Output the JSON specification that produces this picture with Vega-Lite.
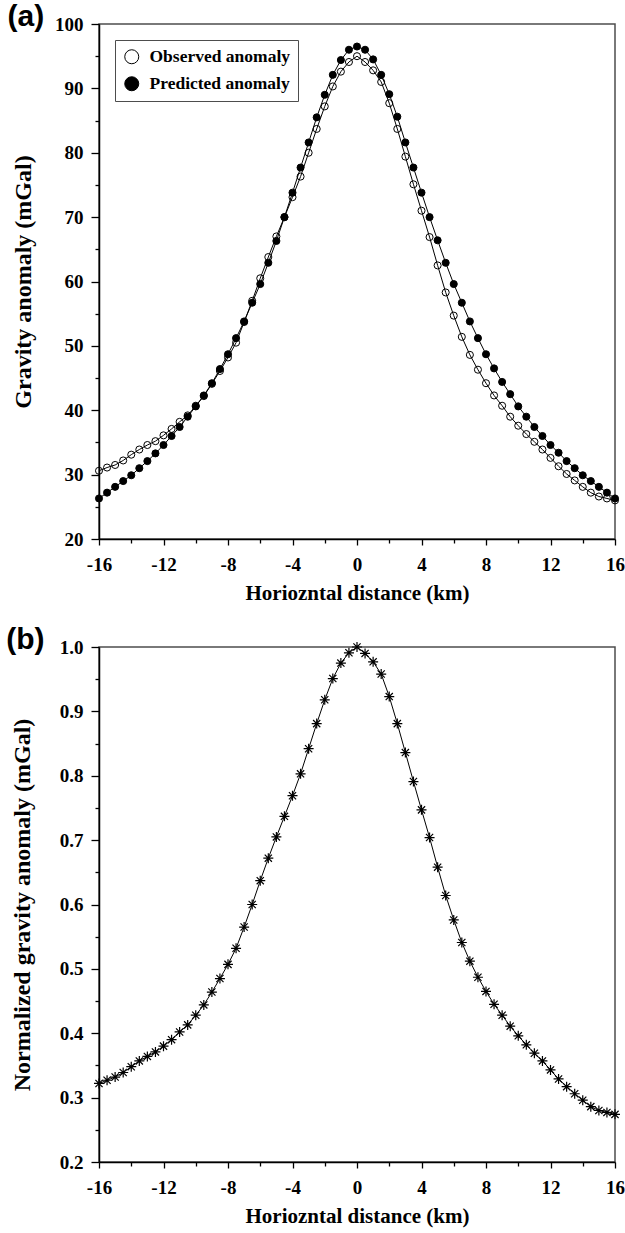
{
  "$schema": "https://vega.github.io/schema/vega-lite/v6.json",
  "background": "white",
  "padding": {"left": 5, "top": 1, "right": 5, "bottom": 5},
  "spacing": 20,
  "config": {
    "font": "Liberation Serif",
    "view": {"stroke": "#4d4d4d", "strokeWidth": 1.5},
    "axis": {"grid": false, "domainColor": "black", "domainWidth": 1.5, "tickColor": "black", "tickWidth": 1.3, "labelFont": "Liberation Serif", "labelFontWeight": "bold", "labelFontSize": 19, "labelColor": "black", "titleFont": "Liberation Serif", "titleFontWeight": "bold", "titleFontSize": 21, "titleColor": "black"},
    "title": {"font": "Liberation Sans", "fontWeight": "bold", "fontSize": 30, "color": "black", "anchor": "start", "frame": "bounds"}
  },
  "datasets": {
    "anomaly": [
      {"x": -16, "series": "Observed anomaly", "value": 30.6},
      {"x": -15.5, "series": "Observed anomaly", "value": 31.1},
      {"x": -15, "series": "Observed anomaly", "value": 31.5},
      {"x": -14.5, "series": "Observed anomaly", "value": 32.2},
      {"x": -14, "series": "Observed anomaly", "value": 33.1},
      {"x": -13.5, "series": "Observed anomaly", "value": 33.9},
      {"x": -13, "series": "Observed anomaly", "value": 34.6},
      {"x": -12.5, "series": "Observed anomaly", "value": 35.2},
      {"x": -12, "series": "Observed anomaly", "value": 36.1},
      {"x": -11.5, "series": "Observed anomaly", "value": 37.1},
      {"x": -11, "series": "Observed anomaly", "value": 38.2},
      {"x": -10.5, "series": "Observed anomaly", "value": 39.2},
      {"x": -10, "series": "Observed anomaly", "value": 40.7},
      {"x": -9.5, "series": "Observed anomaly", "value": 42.2},
      {"x": -9, "series": "Observed anomaly", "value": 44.1},
      {"x": -8.5, "series": "Observed anomaly", "value": 46.1},
      {"x": -8, "series": "Observed anomaly", "value": 48.2},
      {"x": -7.5, "series": "Observed anomaly", "value": 50.5},
      {"x": -7, "series": "Observed anomaly", "value": 53.7},
      {"x": -6.5, "series": "Observed anomaly", "value": 57.0},
      {"x": -6, "series": "Observed anomaly", "value": 60.5},
      {"x": -5.5, "series": "Observed anomaly", "value": 63.8},
      {"x": -5, "series": "Observed anomaly", "value": 67.0},
      {"x": -4.5, "series": "Observed anomaly", "value": 70.0},
      {"x": -4, "series": "Observed anomaly", "value": 73.1},
      {"x": -3.5, "series": "Observed anomaly", "value": 76.3},
      {"x": -3, "series": "Observed anomaly", "value": 80.0},
      {"x": -2.5, "series": "Observed anomaly", "value": 83.7},
      {"x": -2, "series": "Observed anomaly", "value": 87.2},
      {"x": -1.5, "series": "Observed anomaly", "value": 90.3},
      {"x": -1, "series": "Observed anomaly", "value": 92.6},
      {"x": -0.5, "series": "Observed anomaly", "value": 94.1},
      {"x": 0, "series": "Observed anomaly", "value": 95.0},
      {"x": 0.5, "series": "Observed anomaly", "value": 94.1},
      {"x": 1, "series": "Observed anomaly", "value": 92.8},
      {"x": 1.5, "series": "Observed anomaly", "value": 91.0},
      {"x": 2, "series": "Observed anomaly", "value": 87.7},
      {"x": 2.5, "series": "Observed anomaly", "value": 83.7},
      {"x": 3, "series": "Observed anomaly", "value": 79.4},
      {"x": 3.5, "series": "Observed anomaly", "value": 75.1},
      {"x": 4, "series": "Observed anomaly", "value": 71.0},
      {"x": 4.5, "series": "Observed anomaly", "value": 66.9},
      {"x": 5, "series": "Observed anomaly", "value": 62.5},
      {"x": 5.5, "series": "Observed anomaly", "value": 58.3},
      {"x": 6, "series": "Observed anomaly", "value": 54.7},
      {"x": 6.5, "series": "Observed anomaly", "value": 51.4},
      {"x": 7, "series": "Observed anomaly", "value": 48.6},
      {"x": 7.5, "series": "Observed anomaly", "value": 46.3},
      {"x": 8, "series": "Observed anomaly", "value": 44.2},
      {"x": 8.5, "series": "Observed anomaly", "value": 42.3},
      {"x": 9, "series": "Observed anomaly", "value": 40.7},
      {"x": 9.5, "series": "Observed anomaly", "value": 39.0},
      {"x": 10, "series": "Observed anomaly", "value": 37.6},
      {"x": 10.5, "series": "Observed anomaly", "value": 36.3},
      {"x": 11, "series": "Observed anomaly", "value": 35.1},
      {"x": 11.5, "series": "Observed anomaly", "value": 33.9},
      {"x": 12, "series": "Observed anomaly", "value": 32.6},
      {"x": 12.5, "series": "Observed anomaly", "value": 31.3},
      {"x": 13, "series": "Observed anomaly", "value": 30.1},
      {"x": 13.5, "series": "Observed anomaly", "value": 29.1},
      {"x": 14, "series": "Observed anomaly", "value": 28.1},
      {"x": 14.5, "series": "Observed anomaly", "value": 27.2},
      {"x": 15, "series": "Observed anomaly", "value": 26.6},
      {"x": 15.5, "series": "Observed anomaly", "value": 26.3},
      {"x": 16, "series": "Observed anomaly", "value": 26.0},
      {"x": -16, "series": "Predicted anomaly", "value": 26.3},
      {"x": -15.5, "series": "Predicted anomaly", "value": 27.2},
      {"x": -15, "series": "Predicted anomaly", "value": 28.1},
      {"x": -14.5, "series": "Predicted anomaly", "value": 29.0},
      {"x": -14, "series": "Predicted anomaly", "value": 29.9},
      {"x": -13.5, "series": "Predicted anomaly", "value": 31.0},
      {"x": -13, "series": "Predicted anomaly", "value": 32.1},
      {"x": -12.5, "series": "Predicted anomaly", "value": 33.3},
      {"x": -12, "series": "Predicted anomaly", "value": 34.6},
      {"x": -11.5, "series": "Predicted anomaly", "value": 36.0},
      {"x": -11, "series": "Predicted anomaly", "value": 37.4},
      {"x": -10.5, "series": "Predicted anomaly", "value": 39.0},
      {"x": -10, "series": "Predicted anomaly", "value": 40.6},
      {"x": -9.5, "series": "Predicted anomaly", "value": 42.3},
      {"x": -9, "series": "Predicted anomaly", "value": 44.2},
      {"x": -8.5, "series": "Predicted anomaly", "value": 46.4},
      {"x": -8, "series": "Predicted anomaly", "value": 48.7},
      {"x": -7.5, "series": "Predicted anomaly", "value": 51.2},
      {"x": -7, "series": "Predicted anomaly", "value": 53.8},
      {"x": -6.5, "series": "Predicted anomaly", "value": 56.7},
      {"x": -6, "series": "Predicted anomaly", "value": 59.6},
      {"x": -5.5, "series": "Predicted anomaly", "value": 62.9},
      {"x": -5, "series": "Predicted anomaly", "value": 66.3},
      {"x": -4.5, "series": "Predicted anomaly", "value": 70.0},
      {"x": -4, "series": "Predicted anomaly", "value": 73.8},
      {"x": -3.5, "series": "Predicted anomaly", "value": 77.7},
      {"x": -3, "series": "Predicted anomaly", "value": 81.6},
      {"x": -2.5, "series": "Predicted anomaly", "value": 85.5},
      {"x": -2, "series": "Predicted anomaly", "value": 89.0},
      {"x": -1.5, "series": "Predicted anomaly", "value": 92.1},
      {"x": -1, "series": "Predicted anomaly", "value": 94.4},
      {"x": -0.5, "series": "Predicted anomaly", "value": 96.0},
      {"x": 0, "series": "Predicted anomaly", "value": 96.5},
      {"x": 0.5, "series": "Predicted anomaly", "value": 96.0},
      {"x": 1, "series": "Predicted anomaly", "value": 94.5},
      {"x": 1.5, "series": "Predicted anomaly", "value": 92.1},
      {"x": 2, "series": "Predicted anomaly", "value": 89.1},
      {"x": 2.5, "series": "Predicted anomaly", "value": 85.6},
      {"x": 3, "series": "Predicted anomaly", "value": 81.6},
      {"x": 3.5, "series": "Predicted anomaly", "value": 77.7},
      {"x": 4, "series": "Predicted anomaly", "value": 73.8},
      {"x": 4.5, "series": "Predicted anomaly", "value": 70.0},
      {"x": 5, "series": "Predicted anomaly", "value": 66.4},
      {"x": 5.5, "series": "Predicted anomaly", "value": 62.9},
      {"x": 6, "series": "Predicted anomaly", "value": 59.6},
      {"x": 6.5, "series": "Predicted anomaly", "value": 56.7},
      {"x": 7, "series": "Predicted anomaly", "value": 53.8},
      {"x": 7.5, "series": "Predicted anomaly", "value": 51.2},
      {"x": 8, "series": "Predicted anomaly", "value": 48.7},
      {"x": 8.5, "series": "Predicted anomaly", "value": 46.5},
      {"x": 9, "series": "Predicted anomaly", "value": 44.4},
      {"x": 9.5, "series": "Predicted anomaly", "value": 42.5},
      {"x": 10, "series": "Predicted anomaly", "value": 40.6},
      {"x": 10.5, "series": "Predicted anomaly", "value": 39.0},
      {"x": 11, "series": "Predicted anomaly", "value": 37.4},
      {"x": 11.5, "series": "Predicted anomaly", "value": 36.0},
      {"x": 12, "series": "Predicted anomaly", "value": 34.6},
      {"x": 12.5, "series": "Predicted anomaly", "value": 33.4},
      {"x": 13, "series": "Predicted anomaly", "value": 32.1},
      {"x": 13.5, "series": "Predicted anomaly", "value": 31.0},
      {"x": 14, "series": "Predicted anomaly", "value": 29.9},
      {"x": 14.5, "series": "Predicted anomaly", "value": 29.0},
      {"x": 15, "series": "Predicted anomaly", "value": 28.1},
      {"x": 15.5, "series": "Predicted anomaly", "value": 27.2},
      {"x": 16, "series": "Predicted anomaly", "value": 26.3}
    ],
    "normalized": [
      {"x": -16, "value": 0.322}, {"x": -15.5, "value": 0.327}, {"x": -15, "value": 0.332}, {"x": -14.5, "value": 0.339},
      {"x": -14, "value": 0.348}, {"x": -13.5, "value": 0.357}, {"x": -13, "value": 0.364}, {"x": -12.5, "value": 0.371},
      {"x": -12, "value": 0.380}, {"x": -11.5, "value": 0.390}, {"x": -11, "value": 0.402}, {"x": -10.5, "value": 0.413},
      {"x": -10, "value": 0.428}, {"x": -9.5, "value": 0.444}, {"x": -9, "value": 0.464}, {"x": -8.5, "value": 0.485},
      {"x": -8, "value": 0.507}, {"x": -7.5, "value": 0.532}, {"x": -7, "value": 0.565}, {"x": -6.5, "value": 0.600},
      {"x": -6, "value": 0.637}, {"x": -5.5, "value": 0.672}, {"x": -5, "value": 0.705}, {"x": -4.5, "value": 0.737},
      {"x": -4, "value": 0.769}, {"x": -3.5, "value": 0.803}, {"x": -3, "value": 0.842}, {"x": -2.5, "value": 0.881},
      {"x": -2, "value": 0.918}, {"x": -1.5, "value": 0.951}, {"x": -1, "value": 0.975}, {"x": -0.5, "value": 0.991},
      {"x": 0, "value": 1.000}, {"x": 0.5, "value": 0.990}, {"x": 1, "value": 0.977}, {"x": 1.5, "value": 0.958},
      {"x": 2, "value": 0.923}, {"x": 2.5, "value": 0.881}, {"x": 3, "value": 0.836}, {"x": 3.5, "value": 0.791},
      {"x": 4, "value": 0.747}, {"x": 4.5, "value": 0.704}, {"x": 5, "value": 0.658}, {"x": 5.5, "value": 0.614},
      {"x": 6, "value": 0.576}, {"x": 6.5, "value": 0.541}, {"x": 7, "value": 0.512}, {"x": 7.5, "value": 0.487},
      {"x": 8, "value": 0.465}, {"x": 8.5, "value": 0.445}, {"x": 9, "value": 0.428}, {"x": 9.5, "value": 0.411},
      {"x": 10, "value": 0.396}, {"x": 10.5, "value": 0.382}, {"x": 11, "value": 0.369}, {"x": 11.5, "value": 0.357},
      {"x": 12, "value": 0.343}, {"x": 12.5, "value": 0.329}, {"x": 13, "value": 0.317}, {"x": 13.5, "value": 0.306},
      {"x": 14, "value": 0.296}, {"x": 14.5, "value": 0.286}, {"x": 15, "value": 0.280}, {"x": 15.5, "value": 0.277},
      {"x": 16, "value": 0.274}
    ]
  },
  "vconcat": [
    {
      "width": 516,
      "height": 515,
      "title": {"text": "(a)", "offset": -17, "dx": -4},
      "data": {"name": "anomaly"},
      "encoding": {
        "x": {"field": "x", "type": "quantitative",
          "scale": {"domain": [-16, 16], "nice": false, "zero": false},
          "axis": {"title": "Horiozntal distance (km)", "values": [-16, -14, -12, -10, -8, -6, -4, -2, 0, 2, 4, 6, 8, 10, 12, 14, 16],
            "labelExpr": "datum.value % 4 === 0 ? '' + datum.value : ''",
            "tickSize": {"condition": {"test": "datum.value % 4 !== 0", "value": 4}, "value": 6},
            "labelPadding": 10, "titlePadding": 8, "labelFlush": false}},
        "y": {"field": "value", "type": "quantitative",
          "scale": {"domain": [20, 100], "nice": false, "zero": false},
          "axis": {"title": "Gravity anomaly (mGal)", "values": [20, 25, 30, 35, 40, 45, 50, 55, 60, 65, 70, 75, 80, 85, 90, 95, 100],
            "labelExpr": "datum.value % 10 === 0 ? datum.label : ''",
            "tickSize": {"condition": {"test": "datum.value % 10 !== 0", "value": 4}, "value": 8},
            "labelPadding": 8, "titlePadding": 19, "titleFontSize": 24, "labelFlush": false}}
      },
      "layer": [
        {"mark": {"type": "line", "color": "black", "strokeWidth": 1}, "encoding": {"detail": {"field": "series"}}},
        {"mark": {"type": "point", "shape": "circle", "size": 50, "stroke": "black", "strokeWidth": 1, "opacity": 1},
          "encoding": {"fill": {"field": "series", "type": "nominal",
            "scale": {"domain": ["Observed anomaly", "Predicted anomaly"], "range": ["transparent", "black"]},
            "legend": {"title": null, "orient": "top-left", "offset": 16, "labelFont": "Liberation Serif", "labelFontWeight": "bold", "labelFontSize": 17.5, "labelColor": "black",
              "symbolSize": 196, "symbolStrokeColor": "black", "symbolStrokeWidth": 1, "symbolType": "circle", "symbolOpacity": 1,
              "strokeColor": "#4d4d4d", "fillColor": "white", "padding": 8, "rowPadding": 8, "labelOffset": 9}}}}
      ]
    },
    {
      "width": 516,
      "height": 515,
      "title": {"text": "(b)", "offset": -17, "dx": -4},
      "data": {"name": "normalized"},
      "encoding": {
        "x": {"field": "x", "type": "quantitative",
          "scale": {"domain": [-16, 16], "nice": false, "zero": false},
          "axis": {"title": "Horiozntal distance (km)", "values": [-16, -14, -12, -10, -8, -6, -4, -2, 0, 2, 4, 6, 8, 10, 12, 14, 16],
            "labelExpr": "datum.value % 4 === 0 ? '' + datum.value : ''",
            "tickSize": {"condition": {"test": "datum.value % 4 !== 0", "value": 4}, "value": 6},
            "labelPadding": 10, "titlePadding": 8, "labelFlush": false}},
        "y": {"field": "value", "type": "quantitative",
          "scale": {"domain": [0.2, 1.0], "nice": false, "zero": false},
          "axis": {"title": "Normalized gravity anomaly (mGal)", "values": [0.2, 0.25, 0.3, 0.35, 0.4, 0.45, 0.5, 0.55, 0.6, 0.65, 0.7, 0.75, 0.8, 0.85, 0.9, 0.95, 1.0],
            "labelExpr": "round(datum.value * 20) % 2 === 0 ? format(datum.value, '.1f') : ''",
            "tickSize": {"condition": {"test": "round(datum.value * 20) % 2 === 1", "value": 4}, "value": 8},
            "labelPadding": 8, "titlePadding": 25, "titleFontSize": 24, "labelFlush": false}}
      },
      "layer": [
        {"mark": {"type": "line", "color": "black", "strokeWidth": 1}, "encoding": {}},
        {"mark": {"type": "point", "shape": "M-1,0L1,0M0,-1L0,1M-0.72,-0.72L0.72,0.72M-0.72,0.72L0.72,-0.72", "filled": false, "size": 100, "stroke": "black", "strokeWidth": 1.2, "opacity": 1}, "encoding": {}}
      ]
    }
  ]
}
